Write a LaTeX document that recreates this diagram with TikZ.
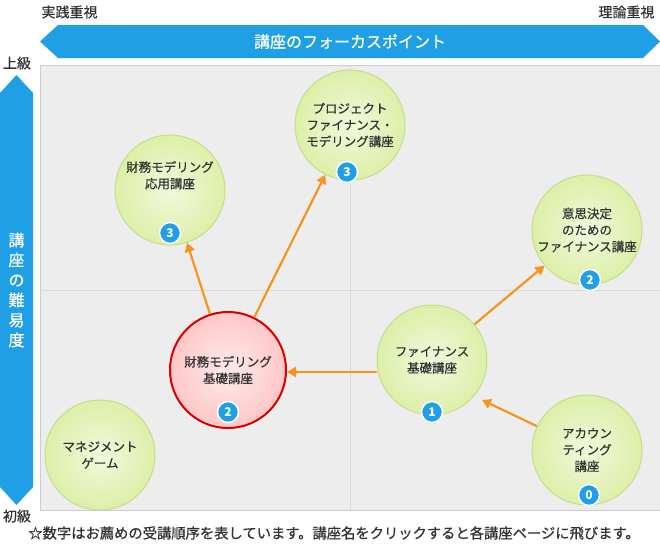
\documentclass[tikz,border=0pt]{standalone}
\usepackage{fontspec}
\setmainfont{Noto Sans CJK JP}
\newfontfamily\med[FakeBold=0.7]{Noto Sans CJK JP}
\usetikzlibrary{arrows.meta,shadings}
\definecolor{blu}{HTML}{1E9FE6}
\definecolor{org}{HTML}{F7941D}
\definecolor{grn}{HTML}{DDEFA8}
\definecolor{grnd}{HTML}{C5DE8A}
\definecolor{txt}{HTML}{333333}
\begin{document}
\begin{tikzpicture}[x=1pt,y=-1pt,
  course/.style={circle,minimum size=110pt,inner sep=0pt,draw=grnd,line width=1pt,inner color=grn!40!white,outer color=grn,align=center,font=\med\fontsize{12.5}{16.5}\selectfont,text=txt},
  basic/.style={course,minimum size=116pt,draw=red!85!black,line width=2pt,inner color=red!8!white,outer color=red!22!white},
  badge/.style={circle,fill=blu,draw=white,line width=1.5pt,minimum size=21pt,inner sep=0pt,text=white,font=\bfseries\fontsize{12}{12}\selectfont},
  arr/.style={org,line width=2.2pt,-{Triangle[length=9pt,width=10pt]}},
  lbl/.style={font=\med\fontsize{14}{14}\selectfont,text=txt}]
\useasboundingbox (0,0) rectangle (660,550);
\fill[white] (0,0) rectangle (660,550);
% chart area
\fill[black!7,draw=black!20] (40,65) rectangle (660,510);
\draw[black!15] (350,65) -- (350,510) (40,290) -- (660,290);
% top arrow
\fill[blu] (40,41.5) -- (58,25) -- (643,25) -- (660,41.5) -- (643,58) -- (58,58) -- cycle;
\node[text=white,font=\med\fontsize{16}{16}\selectfont] (ta) at (350,41.5) {講座のフォーカスポイント};
\node[lbl,anchor=west] (l1) at (38,12) {実践重視};
\node[lbl,anchor=east] (l2) at (658,12) {理論重視};
% left arrow
\fill[blu] (16.5,75) -- (33,93) -- (33,487) -- (16.5,505) -- (0,487) -- (0,93) -- cycle;
\node[text=white,font=\med\fontsize{16}{20}\selectfont,align=center] (la) at (16.5,290) {講\\座\\の\\難\\易\\度};
\node[lbl] (l3) at (17,63) {上級};
\node[lbl] (l4) at (17,516) {初級};
% courses
\node[course] (pf) at (350,125) {プロジェクト\\ファイナンス・\\モデリング講座};
\node[course] (ap) at (170,190) {財務モデリング\\応用講座\\[14pt]};
\node[course] (dm) at (587,230) {意思決定\\のための\\ファイナンス講座};
\node[basic] (bs) at (228,370) {財務モデリング\\基礎講座};
\node[course] (fb) at (432,360) {ファイナンス\\基礎講座};
\node[course] (mg) at (100,455) {マネジメント\\ゲーム};
\node[course] (ac) at (587,450) {アカウン\\ティング\\講座};
% badges
\node[badge] (b1) at (347,172) {3};
\node[badge] (b2) at (170,233) {3};
\node[badge] (b3) at (590,280) {2};
\node[badge] (b4) at (228,412) {2};
\node[badge] (b5) at (432,412) {1};
\node[badge] (b6) at (589,495) {0};
% arrows
\coordinate (fbw) at (377,372);
\coordinate (bse) at (287,372);
\draw[arr] (ac) -- (482,400);
\draw[arr] (fbw) -- (bse);
\draw[arr] (fb) -- (dm);
\draw[arr] (bs) -- (ap);
\draw[arr] (bs) -- (pf);
\node[font=\med\fontsize{14.3}{14.3}\selectfont,text=txt] (fn) at (334,533) {☆数字はお薦めの受講順序を表しています。講座名をクリックすると各講座ページに飛びます。};
\end{tikzpicture}
\end{document}
